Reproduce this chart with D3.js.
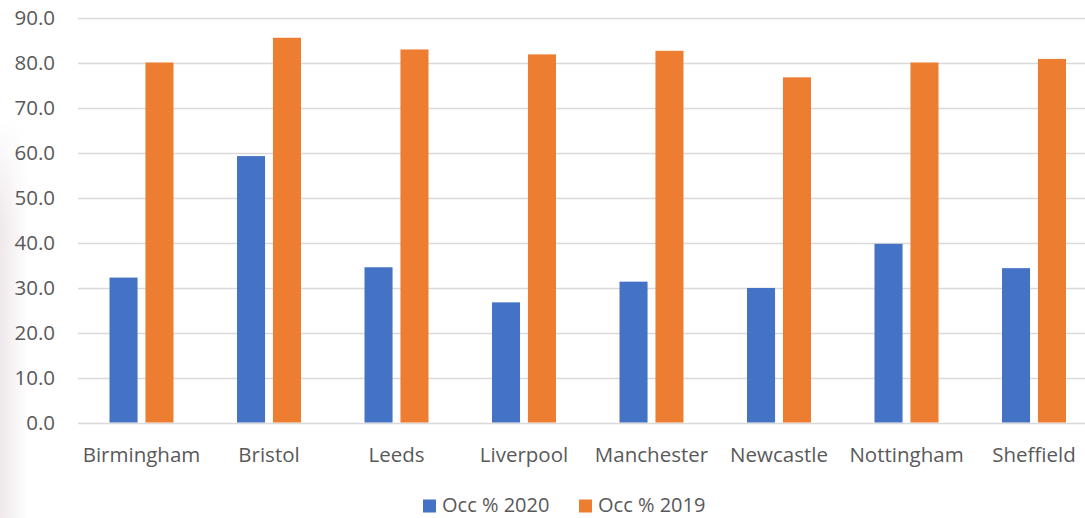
<!DOCTYPE html>
<html>
<head>
<meta charset="utf-8">
<script src="https://cdn.jsdelivr.net/npm/d3@7"></script>
<style>
  html, body { margin: 0; padding: 0; background: #ffffff; }
  svg { display: block; }
  text { font-family: "Open Sans", "Noto Sans", sans-serif; fill: #595959; }
</style>
</head>
<body>
<div id="chart"></div>
<script>
const categories = ["Birmingham", "Bristol", "Leeds", "Liverpool", "Manchester", "Newcastle", "Nottingham", "Sheffield"];
const occ2020 = [32.2, 59.2, 34.5, 26.7, 31.3, 29.9, 39.7, 34.3];
const occ2019 = [80.0, 85.5, 82.9, 81.8, 82.6, 76.7, 80.0, 80.8];
const seriesNames = ["Occ % 2020", "Occ % 2019"];
const seriesColors = ["#4472C4", "#ED7D31"];
const yTicks = [0, 10, 20, 30, 40, 50, 60, 70, 80, 90];

const W = 1085, H = 518;
const FS = 20.5;
const svg = d3.select("#chart").append("svg").attr("width", W).attr("height", H);

// faint background watermark on left edge
const defs = svg.append("defs");
const grad = defs.append("linearGradient").attr("id", "wm").attr("x1", 0).attr("x2", 1);
grad.append("stop").attr("offset", "0%").attr("stop-color", "#f0e8eb");
grad.append("stop").attr("offset", "100%").attr("stop-color", "#ffffff");
const gradV = defs.append("linearGradient").attr("id", "wmv").attr("x1", 0).attr("x2", 0).attr("y1", 0).attr("y2", 1);
gradV.append("stop").attr("offset", "0%").attr("stop-color", "#fff").attr("stop-opacity", 1);
gradV.append("stop").attr("offset", "25%").attr("stop-color", "#fff").attr("stop-opacity", 0);
svg.append("rect").attr("x", 0).attr("y", 120).attr("width", 28).attr("height", H - 120).attr("fill", "url(#wm)");
svg.append("rect").attr("x", 0).attr("y", 120).attr("width", 28).attr("height", H - 120).attr("fill", "url(#wmv)");

const x = d3.scaleBand().domain(categories).range([77.75, 1097.75]).paddingInner(0).paddingOuter(0);
const x1 = d3.scaleBand().domain(seriesNames).range([x.bandwidth() / 2 - 32, x.bandwidth() / 2 + 32]).paddingInner(0.22);
const y = d3.scaleLinear().domain([0, 90]).range([422.5, 17.5]);

// gridlines
svg.append("g").selectAll("line").data(yTicks).join("line")
  .attr("x1", 78).attr("x2", W)
  .attr("y1", d => Math.round(y(d)) + 0.5).attr("y2", d => Math.round(y(d)) + 0.5)
  .attr("stroke", "#d9d9d9").attr("stroke-width", 1.5);

// y axis labels
const yAxis = d3.axisLeft(y).tickValues(yTicks).tickFormat(d3.format(".1f")).tickSize(0).tickPadding(0);
const yg = svg.append("g").attr("transform", "translate(55,0)").call(yAxis);
yg.select(".domain").remove();
yg.selectAll("text").attr("font-size", FS).attr("fill", "#595959").attr("dy", "0.36em")
  .style("font-family", '"Open Sans", sans-serif');

// bars
const data = categories.map((c, i) => ({ c, vals: [occ2020[i], occ2019[i]] }));
const groups = svg.append("g").selectAll("g").data(data).join("g")
  .attr("transform", d => `translate(${x(d.c)},0)`);
groups.selectAll("rect").data(d => d.vals.map((v, j) => ({ v, s: seriesNames[j], j }))).join("rect")
  .attr("x", d => x1(d.s))
  .attr("width", x1.bandwidth())
  .attr("y", d => y(d.v))
  .attr("height", d => y(0) - y(d.v))
  .attr("fill", d => seriesColors[d.j]);

// x axis labels
const xAxis = d3.axisBottom(x).tickSize(0).tickPadding(0);
const xg = svg.append("g").attr("transform", "translate(0,462)").call(xAxis);
xg.select(".domain").remove();
xg.selectAll("text").attr("font-size", FS).attr("fill", "#595959").attr("dy", "0")
  .style("font-family", '"Open Sans", sans-serif');

// legend
const legend = svg.append("g");
const legX = [423, 579];
seriesNames.forEach((s, i) => {
  legend.append("rect").attr("x", legX[i]).attr("y", 499.5).attr("width", 13).attr("height", 13).attr("fill", seriesColors[i]);
  legend.append("text").attr("x", legX[i] + 19).attr("y", 512).attr("font-size", 20).text(s);
});
</script>
</body>
</html>
